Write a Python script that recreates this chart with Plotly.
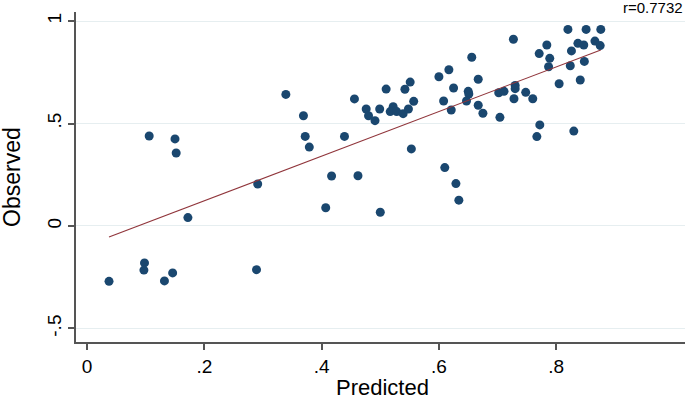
import plotly.graph_objects as go

predicted = [0.106, 0.150, 0.152, 0.339, 0.369, 0.372, 0.379, 0.291, 0.456, 0.439,
             0.417, 0.462, 0.476, 0.480, 0.491, 0.499, 0.510, 0.522, 0.517, 0.528,
             0.539, 0.548, 0.542, 0.551, 0.557, 0.553, 0.600, 0.617, 0.608, 0.625,
             0.621, 0.610, 0.629, 0.634, 0.656, 0.650, 0.651, 0.647, 0.667, 0.667,
             0.675, 0.704, 0.702, 0.711, 0.727, 0.730, 0.730, 0.728, 0.748, 0.760,
             0.771, 0.784, 0.789, 0.787, 0.772, 0.767, 0.820, 0.851, 0.876, 0.837,
             0.847, 0.826, 0.866, 0.875, 0.824, 0.848, 0.805, 0.841, 0.830, 0.172,
             0.098, 0.097, 0.0375, 0.132, 0.146, 0.289, 0.407, 0.500]
observed = [0.439, 0.425, 0.356, 0.642, 0.538, 0.437, 0.385, 0.205, 0.620, 0.437,
            0.244, 0.245, 0.571, 0.538, 0.514, 0.571, 0.668, 0.582, 0.558, 0.558,
            0.548, 0.571, 0.667, 0.702, 0.608, 0.376, 0.728, 0.762, 0.610, 0.673,
            0.566, 0.285, 0.207, 0.126, 0.823, 0.657, 0.644, 0.610, 0.716, 0.589,
            0.550, 0.530, 0.650, 0.657, 0.911, 0.686, 0.670, 0.621, 0.652, 0.621,
            0.841, 0.883, 0.818, 0.777, 0.493, 0.436, 0.959, 0.959, 0.959, 0.891,
            0.883, 0.854, 0.902, 0.880, 0.782, 0.803, 0.694, 0.712, 0.463, 0.041,
            -0.180, -0.215, -0.270, -0.268, -0.229, -0.213, 0.089, 0.067]

fit_intercept = -0.095
fit_slope = 1.089
r_label = "r=0.7732"
x_title = "Predicted"
y_title = "Observed"

x_ticks = [0, 0.2, 0.4, 0.6, 0.8]
x_tick_text = ["0", ".2", ".4", ".6", ".8"]
y_ticks = [-0.5, 0, 0.5, 1]
y_tick_text = ["-.5", "0", ".5", "1"]

line_x = [min(predicted), max(predicted)]
line_y = [fit_intercept + fit_slope * v for v in line_x]

fig = go.Figure()
fig.add_trace(go.Scatter(
    x=predicted, y=observed, mode="markers",
    marker=dict(color="#1a476f", size=9, line=dict(width=0)),
    showlegend=False,
))
fig.add_trace(go.Scatter(
    x=line_x, y=line_y, mode="lines",
    line=dict(color="#90353b", width=1.1),
    showlegend=False,
))

font_family = "Liberation Sans, Arial, sans-serif"
fig.update_layout(
    width=685, height=400,
    margin=dict(l=76, r=0, t=12, b=58),
    paper_bgcolor="white", plot_bgcolor="white",
    font=dict(family=font_family, color="black"),
    xaxis=dict(
        range=[-0.0188, 1.0196],
        tickvals=x_ticks, ticktext=x_tick_text,
        tickfont=dict(size=19),
        showgrid=False, zeroline=False,
        showline=True, linecolor="#555555", linewidth=1.5,
        ticks="outside", ticklen=6, tickcolor="#555555", tickwidth=1.5,
    ),
    yaxis=dict(
        range=[-0.566, 1.044],
        tickvals=y_ticks, ticktext=y_tick_text,
        tickfont=dict(size=19), tickangle=-90,
        showgrid=True, gridcolor="#e6eef0", gridwidth=1,
        zeroline=False,
        showline=True, linecolor="#555555", linewidth=1.5,
        ticks="outside", ticklen=6, tickcolor="#555555", tickwidth=1.5,
    ),
    annotations=[
        dict(text=r_label, x=1, y=1, xref="paper", yref="paper",
             xanchor="right", yanchor="bottom", yshift=-6, showarrow=False,
             font=dict(size=15, color="black")),
        dict(text=x_title, x=0.5, y=0, xref="paper", yref="paper",
             xanchor="center", yanchor="middle", yshift=-45, xshift=2,
             showarrow=False, font=dict(size=22, color="black")),
        dict(text=y_title, x=0, y=0.5, xref="paper", yref="paper",
             xanchor="center", yanchor="middle", xshift=-64, textangle=-90,
             showarrow=False, font=dict(size=23, color="black")),
    ],
)

fig.write_html(
    "out.html",
    config={"displayModeBar": False},
    post_script="document.body.style.margin='0';document.body.style.overflow='hidden';",
)
